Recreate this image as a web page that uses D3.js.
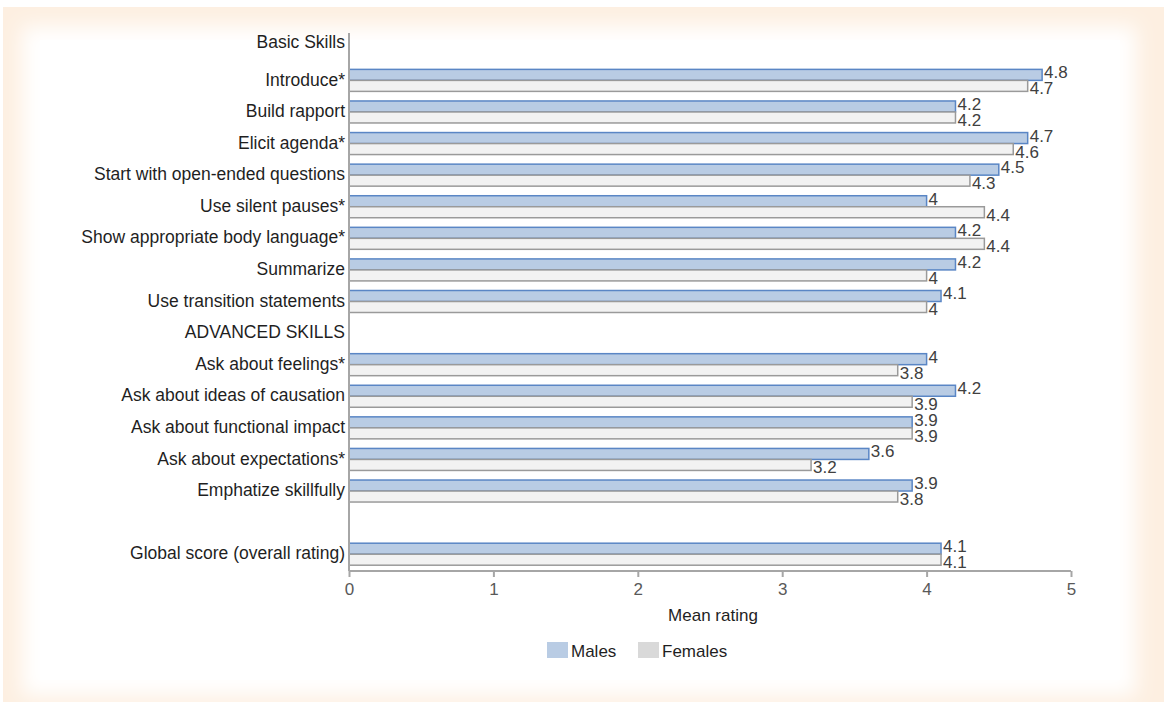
<!DOCTYPE html>
<html>
<head>
<meta charset="utf-8">
<script src="https://cdn.jsdelivr.net/npm/d3@7"></script>
<style>
  html, body { margin: 0; padding: 0; background: #ffffff; }
  svg { display: block; font-family: "Liberation Sans", Arial, sans-serif; }
</style>
</head>
<body>
<svg id="chart" width="1167" height="702"></svg>
<script>
const categories = [
  "Basic Skills",
  "Introduce*",
  "Build rapport",
  "Elicit agenda*",
  "Start with open-ended questions",
  "Use silent pauses*",
  "Show appropriate body language*",
  "Summarize",
  "Use transition statements",
  "ADVANCED SKILLS",
  "Ask about feelings*",
  "Ask about ideas of causation",
  "Ask about functional impact",
  "Ask about expectations*",
  "Emphatize skillfully",
  "",
  "Global score (overall rating)"
];
const males   = [null, 4.8, 4.2, 4.7, 4.5, 4,   4.2, 4.2, 4.1, null, 4,   4.2, 3.9, 3.6, 3.9, null, 4.1];
const females = [null, 4.7, 4.2, 4.6, 4.3, 4.4, 4.4, 4,   4,   null, 3.8, 3.9, 3.9, 3.2, 3.8, null, 4.1];
const seriesNames = ["Males", "Females"];
const xTicks = [0, 1, 2, 3, 4, 5];
const axisTitle = "Mean rating";

const svg = d3.select("#chart");

// background frame
const defs = svg.append("defs");
const blur = defs.append("filter").attr("id", "soft").attr("x", "-5%").attr("y", "-5%").attr("width", "110%").attr("height", "110%");
blur.append("feGaussianBlur").attr("stdDeviation", 10);
svg.append("rect").attr("x", 3).attr("y", 7).attr("width", 1161).attr("height", 695).attr("fill", "#fdefe1");
svg.append("rect").attr("x", 22).attr("y", 26).attr("width", 1114).attr("height", 670).attr("fill", "#ffffff").attr("filter", "url(#soft)");
svg.append("rect").attr("x", 40).attr("y", 40).attr("width", 1080).attr("height", 640).attr("fill", "#ffffff");

const x = d3.scaleLinear().domain([0, 5]).range([349, 1071]);
const y = d3.scaleBand().domain(d3.range(categories.length)).range([33, 570]);
const barH = 11;

// bars
const rows = d3.range(categories.length).filter(i => males[i] != null);
const g = svg.append("g");

g.selectAll("rect.m").data(rows).join("rect")
  .attr("class", "m")
  .attr("x", x(0))
  .attr("y", i => y(i) + y.bandwidth() / 2 - barH)
  .attr("width", i => x(males[i]) - x(0))
  .attr("height", barH)
  .attr("fill", "#b9cce4")
  .attr("stroke", "#5a86c5")
  .attr("stroke-width", 1.5);

g.selectAll("rect.f").data(rows).join("rect")
  .attr("class", "f")
  .attr("x", x(0))
  .attr("y", i => y(i) + y.bandwidth() / 2)
  .attr("width", i => x(females[i]) - x(0))
  .attr("height", barH)
  .attr("fill", "#f2f2f2")
  .attr("stroke", "#9a9a9a")
  .attr("stroke-width", 1.5);

// value labels
g.selectAll("text.mv").data(rows).join("text")
  .attr("class", "mv")
  .attr("x", i => x(males[i]) + 2)
  .attr("y", i => y(i) + y.bandwidth() / 2 - 8)
  .attr("dy", "0.35em")
  .attr("font-size", 17)
  .attr("fill", "#404040")
  .text(i => males[i]);

g.selectAll("text.fv").data(rows).join("text")
  .attr("class", "fv")
  .attr("x", i => x(females[i]) + 2)
  .attr("y", i => y(i) + y.bandwidth() / 2 + 8)
  .attr("dy", "0.35em")
  .attr("font-size", 17)
  .attr("fill", "#404040")
  .text(i => females[i]);

// y axis line
svg.append("line")
  .attr("x1", x(0)).attr("x2", x(0))
  .attr("y1", 33).attr("y2", 571)
  .attr("stroke", "#a6a6a6").attr("stroke-width", 2);

// category labels
svg.append("g").selectAll("text").data(categories).join("text")
  .attr("x", 345)
  .attr("y", (d, i) => y(i) + y.bandwidth() / 2 + (i === 0 ? -7 : -1))
  .attr("dy", "0.35em")
  .attr("text-anchor", "end")
  .attr("font-size", 17.5)
  .attr("fill", "#1f1f1f")
  .text(d => d);

// x axis
const xAxis = d3.axisBottom(x).tickValues(xTicks).tickSize(6).tickPadding(6).tickFormat(d3.format("d"));
const ax = svg.append("g").attr("transform", "translate(0,571)").call(xAxis);
ax.select(".domain").attr("stroke", "#a6a6a6").attr("stroke-width", 2).attr("d", `M${x(0)},0H${x(5)}`);
ax.selectAll(".tick line").attr("stroke", "#a6a6a6").attr("stroke-width", 2);
ax.selectAll(".tick text").attr("font-size", 17).attr("fill", "#595959").attr("font-family", "Liberation Sans, Arial, sans-serif");

svg.append("text")
  .attr("x", (x(0) + x(5)) / 2 + 3)
  .attr("y", 615)
  .attr("dy", "0.35em")
  .attr("text-anchor", "middle")
  .attr("font-size", 17)
  .attr("fill", "#1f1f1f")
  .text(axisTitle);

// legend
const legendColors = ["#b9cce4", "#d9d9d9"];
const legendX = [547, 638];
const lg = svg.append("g");
seriesNames.forEach((name, k) => {
  lg.append("rect").attr("x", legendX[k]).attr("y", 642).attr("width", 21).attr("height", 16).attr("fill", legendColors[k]);
  lg.append("text").attr("x", legendX[k] + 24).attr("y", 651).attr("dy", "0.35em")
    .attr("font-size", 17).attr("fill", "#1f1f1f").text(name);
});
</script>
</body>
</html>
